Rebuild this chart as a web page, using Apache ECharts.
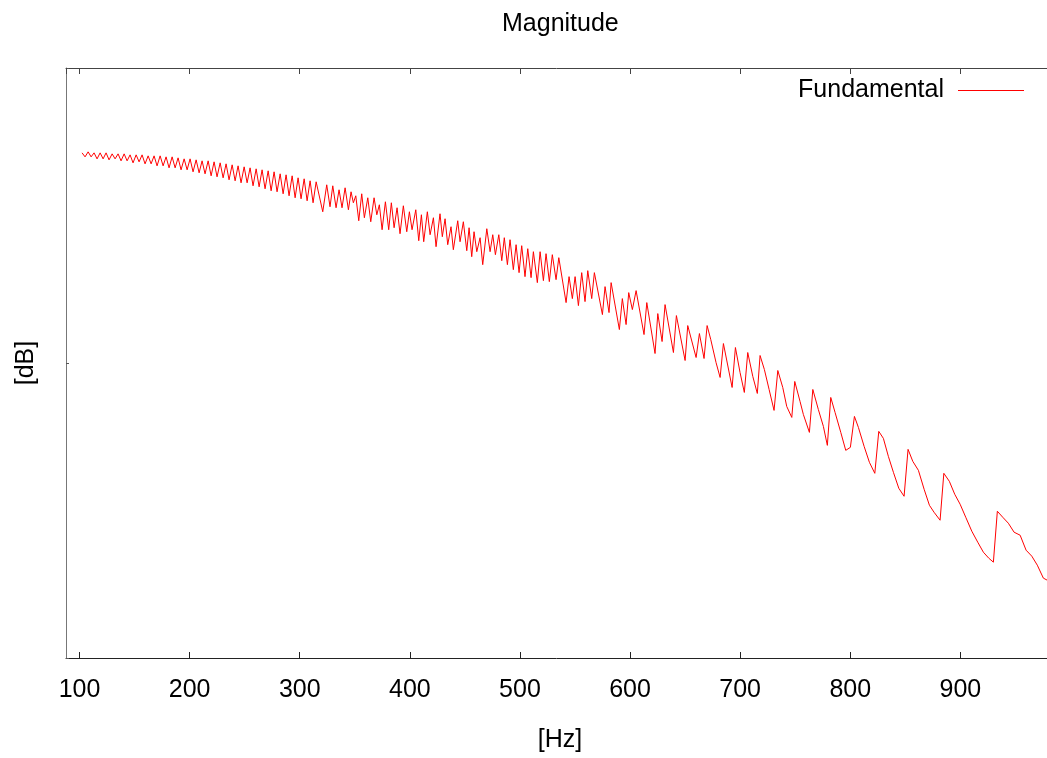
<!DOCTYPE html>
<html><head><meta charset="utf-8">
<script src="https://cdn.jsdelivr.net/npm/echarts@6/dist/echarts.min.js"></script>
<style>html,body{margin:0;padding:0;background:#fff}#c{width:1047px;height:758px}</style>
</head><body><div id="c"></div>
<script>
const chartTitle = 'Magnitude';
const seriesName = 'Fundamental';
const xName = '[Hz]';
const yName = '[dB]';

const freqHz = [
102.3,105.0,107.8,110.5,113.2,115.9,118.7,121.4,124.1,126.8,129.6,132.3,135.0,137.7,140.5,143.2,145.9,148.6,151.4,154.1,
156.8,159.5,162.3,165.0,167.7,170.4,173.2,175.9,178.6,181.3,184.1,186.8,189.5,192.2,195.0,197.7,200.4,203.1,205.9,208.6,
211.3,214.0,216.8,219.5,222.2,224.9,227.7,230.4,233.1,235.8,238.6,241.3,244.0,246.7,249.5,252.2,254.9,257.6,260.4,263.1,
265.8,268.5,271.3,274.0,276.7,279.4,282.2,284.9,287.6,290.3,293.1,295.8,298.5,301.2,304.0,306.7,309.4,312.1,314.9,
320.9,324.5,327.5,330.0,333.0,335.7,338.4,341.2,344.2,346.6,348.7,350.9,353.6,356.3,358.7,361.8,364.5,367.5,370.0,372.3,
374.8,377.8,380.8,383.2,385.7,388.4,391.1,394.1,397.2,399.6,402.0,405.4,408.1,410.5,412.6,415.9,418.4,421.4,423.8,427.4,
429.5,432.0,434.4,437.4,439.5,443.5,445.6,448.6,451.7,453.8,456.2,458.3,460.8,463.8,466.2,469.9,472.9,475.3,477.7,480.8,
483.5,485.8,488.6,491.0,494.0,496.5,499.2,501.6,504.6,507.1,510.1,512.2,515.8,518.3,521.3,523.7,526.7,529.4,532.8,535.3,
541.9,544.6,547.6,550.1,553.1,556.1,559.1,561.6,565.2,567.6,574.9,577.3,580.9,582.8,590.3,593.0,596.4,598.8,602.1,605.5,
612.7,615.2,622.7,625.2,629.1,631.8,639.4,642.1,650.0,652.4,660.0,663.0,667.2,670.0,673.3,678.1,681.8,684.8,692.7,695.7,
699.9,703.8,706.9,711.5,715.6,718.1,722.0,726.3,730.8,734.2,738.7,742.3,746.9,749.6,754.4,757.4,762.9,766.0,771.0,775.6,
779.2,782.3,786.2,791.4,795.9,800.1,803.8,807.4,812.6,817.4,822.3,825.9,830.1,834.6,839.2,844.1,848.9,852.5,856.8,861.9,
867.1,871.9,876.1,881.6,885.0,890.0,894.9,899.8,904.9,910.4,915.8,920.9,925.8,930.0,933.6,938.5,943.6,948.8,954.3,959.7,
964.9,969.9,975.4,978.8,984.2
];

const magDb = [
-8.5,-8.9,-8.4,-8.9,-8.5,-9.1,-8.5,-9.1,-8.5,-9.2,-8.6,-9.1,-8.6,-9.3,-8.6,-9.3,-8.7,-9.5,-8.7,-9.4,
-8.7,-9.6,-8.8,-9.6,-8.8,-9.8,-8.8,-9.8,-8.9,-10.0,-8.9,-10.0,-9.0,-10.2,-9.1,-10.2,-9.1,-10.4,-9.2,-10.5,
-9.3,-10.6,-9.3,-10.8,-9.4,-10.9,-9.5,-11.0,-9.6,-11.2,-9.7,-11.3,-9.8,-11.5,-9.9,-11.5,-10.0,-11.8,-10.1,-11.9,
-10.2,-12.1,-10.3,-12.3,-10.4,-12.4,-10.6,-12.6,-10.7,-12.8,-10.8,-13.0,-11.0,-13.1,-11.1,-13.3,-11.3,-13.5,-11.4,
-14.4,-11.7,-13.9,-11.8,-14.0,-12.2,-14.0,-12.0,-14.2,-12.4,-13.5,-12.8,-15.3,-12.6,-15.0,-13.0,-15.4,-13.0,-14.7,-13.7,
-16.2,-13.4,-16.2,-13.5,-16.0,-14.0,-16.6,-13.8,-16.4,-14.4,-16.2,-14.2,-17.3,-14.7,-17.4,-14.4,-16.7,-15.0,-17.9,-14.6,
-16.9,-15.1,-17.7,-15.9,-18.2,-15.3,-17.4,-15.4,-18.3,-16.0,-18.9,-16.4,-18.4,-17.0,-19.7,-16.1,-18.4,-16.7,-18.7,-16.7,
-19.3,-17.0,-19.7,-17.2,-20.2,-17.7,-20.5,-17.8,-20.9,-18.1,-21.0,-18.4,-21.5,-18.4,-21.3,-18.6,-21.4,-18.7,-21.2,-19.0,
-23.5,-20.9,-23.1,-20.9,-23.8,-20.5,-23.4,-20.3,-23.1,-20.5,-24.7,-21.9,-24.5,-21.5,-26.2,-23.1,-25.7,-22.5,-24.2,-22.3,
-26.7,-23.5,-28.6,-24.6,-27.4,-23.7,-28.5,-24.8,-29.3,-25.8,-29.0,-26.6,-29.1,-25.8,-27.2,-29.5,-31.0,-27.6,-32.0,-28.0,
-30.5,-32.5,-28.5,-30.9,-32.6,-28.8,-30.2,-32.2,-34.3,-30.3,-32.0,-33.9,-35.0,-31.4,-33.4,-34.7,-36.5,-32.2,-34.2,-35.9,
-37.8,-33.0,-34.5,-36.5,-38.3,-38.0,-34.9,-36.0,-37.9,-39.5,-40.6,-36.4,-37.1,-38.9,-40.5,-42.1,-42.9,-38.2,-39.4,-40.3,
-42.2,-43.8,-44.5,-45.3,-40.6,-41.4,-42.7,-43.7,-45.0,-46.4,-47.5,-48.5,-49.1,-49.5,-44.4,-45.0,-45.6,-46.5,-46.8,-48.3,
-48.9,-49.8,-51.1,-51.3,-51.8
];

const FONT = '"Liberation Sans", Arial, Helvetica, sans-serif';
const data = freqHz.map((f, i) => [f, magDb[i]]);

const chart = echarts.init(document.getElementById('c'), null, {renderer: 'canvas'});
const xCommon = {
  type: 'value', min: 87.7, max: 978.7, splitNumber: 9, minInterval: 100, maxInterval: 100,
  splitLine: {show: false}
};
chart.setOption({
  animation: false,
  backgroundColor: '#fff',
  title: {
    text: chartTitle, left: 497, top: 7,
    textStyle: {fontFamily: FONT, fontSize: 25, fontWeight: 'normal', color: '#000'}
  },
  legend: {
    data: [{name: seriesName, icon: 'rect'}],
    right: 18, top: 73, align: 'right', itemWidth: 66, itemHeight: 1,
    textStyle: {fontFamily: FONT, fontSize: 25, color: '#000', padding: [0, 9, 0, 0]}
  },
  grid: {left: 66, top: 68, right: 0, bottom: 98, containLabel: false},
  xAxis: [
    Object.assign({}, xCommon, {
      position: 'bottom',
      name: xName, nameLocation: 'middle', nameGap: 70,
      nameTextStyle: {fontFamily: FONT, fontSize: 25, color: '#000', padding: [0, 0, 0, 7]},
      axisLine: {onZero: false, lineStyle: {color: '#222', width: 1}},
      axisTick: {inside: true, length: 6, lineStyle: {color: '#222'}},
      axisLabel: {
        margin: 20, fontFamily: FONT, fontSize: 25, color: '#000',
        showMinLabel: false, showMaxLabel: false,
        formatter: v => (Math.abs(v / 100 - Math.round(v / 100)) < 1e-6 ? String(Math.round(v)) : '')
      }
    }),
    Object.assign({}, xCommon, {
      position: 'top',
      axisLine: {onZero: false, lineStyle: {color: '#444', width: 1}},
      axisTick: {inside: true, length: 6, lineStyle: {color: '#444'}},
      axisLabel: {show: false}
    })
  ],
  yAxis: {
    type: 'value', min: -59.1, max: 0, splitNumber: 2, minInterval: 29.55, maxInterval: 29.55,
    name: yName, nameLocation: 'middle', nameRotate: 90, nameGap: 27,
    nameTextStyle: {fontFamily: FONT, fontSize: 25, color: '#000'},
    axisLine: {onZero: false, lineStyle: {color: '#777', width: 1}},
    axisTick: {inside: true, length: 3, lineStyle: {color: '#555'}},
    axisLabel: {show: false},
    splitLine: {show: false}
  },
  series: [{
    type: 'line', name: seriesName, data: data, xAxisIndex: 0,
    symbol: 'none', showSymbol: false,
    lineStyle: {color: '#ff0000', width: 1},
    itemStyle: {color: '#ff0000'}
  }]
});
</script>
</body></html>
